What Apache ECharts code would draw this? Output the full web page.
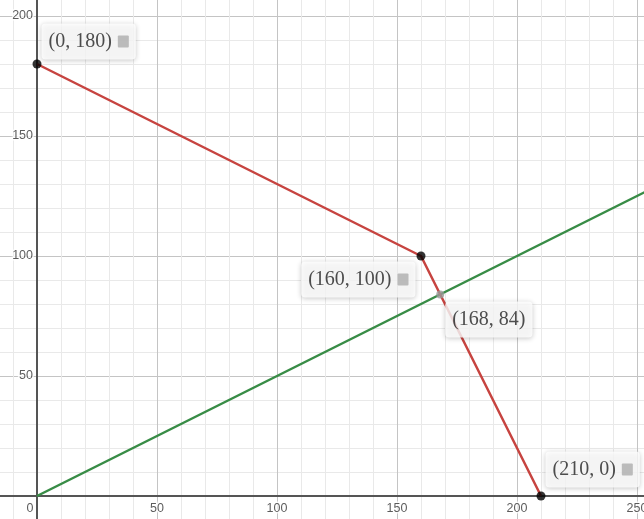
<!DOCTYPE html>
<html>
<head>
<meta charset="utf-8">
<script src="https://cdn.jsdelivr.net/npm/echarts@6/dist/echarts.min.js"></script>
<style>
html,body{margin:0;padding:0;background:#fff;width:644px;height:519px;overflow:hidden;position:relative}
#c{position:absolute;left:-83px;top:-104px;width:840px;height:720px}
</style>
</head>
<body>
<div id="c"></div>
<script>
// data
const redX = [0, 160, 210];
const redY = [180, 100, 0];
const greenX = [0, 260];
const greenY = [0, 130];
const pointX = [0, 160, 168, 210];
const pointY = [180, 100, 84, 0];
const pointLabels = ['(0, 180)', '(160, 100)', '(168, 84)', '(210, 0)'];
const pointHasIcon = [true, true, false, true];
const pointIsIntersection = [false, false, true, false];
const xTickLabels = [0, 50, 100, 150, 200, 250];
const yTickLabels = [50, 100, 150, 200];

// label placement (style)
const placement = [
  {position: [9, -36], align: 'left', verticalAlign: 'top'},
  {position: [-1, 10], align: 'right', verticalAlign: 'top'},
  {position: [9, 11], align: 'left', verticalAlign: 'top'},
  {position: [9, -4], align: 'left', verticalAlign: 'bottom'}
];

const chart = echarts.init(document.getElementById('c'));
const toPairs = (xs, ys) => xs.map((x, i) => [x, ys[i]]);

const pointData = pointX.map((x, i) => ({
  value: [x, pointY[i]],
  symbolSize: pointIsIntersection[i] ? 8 : 9,
  itemStyle: {color: pointIsIntersection[i] ? '#9a9a9a' : '#000'},
  label: Object.assign({
    show: true,
    formatter: pointHasIcon[i] ? '{t|' + pointLabels[i] + '}{sp| }{ic| }' : '{t|' + pointLabels[i] + '}'
  }, placement[i])
}));

const gridColor = '#c4c4c4';
const minorColor = '#e9e9e9';
const tickText = {show: true, color: '#333', fontSize: 12.5, fontFamily: 'Liberation Sans', textBorderColor: '#fff', textBorderWidth: 3};

const axisCommon = {
  type: 'value', interval: 50,
  axisLine: {onZero: true, lineStyle: {color: '#555', width: 2}},
  axisTick: {show: false},
  axisLabel: {show: false},
  splitLine: {show: true, lineStyle: {color: gridColor, width: 1}},
  minorTick: {show: false, splitNumber: 5},
  minorSplitLine: {show: true, lineStyle: {color: minorColor, width: 1}}
};

chart.setOption({
  animation: false,
  backgroundColor: '#fff',
  grid: {left: 0, right: 0, top: 0, bottom: 0, containLabel: false, outerBoundsMode: 'none'},
  xAxis: Object.assign({min: -50, max: 300}, axisCommon),
  yAxis: Object.assign({min: -50, max: 250}, axisCommon),
  series: [
    {
      type: 'line', data: toPairs(greenX, greenY), symbol: 'none',
      lineStyle: {color: '#388c46', width: 2.5}, z: 2, silent: true
    },
    {
      type: 'line', data: toPairs(redX, redY), symbol: 'none',
      lineStyle: {color: '#c74440', width: 2.5}, z: 3, silent: true
    },
    {
      type: 'scatter', silent: true, z: 4, symbolSize: 0,
      data: xTickLabels.map(v => ({
        value: [v, 0],
        label: v === 0 ? {offset: [-7, 0]} : {}
      })),
      label: Object.assign({position: 'bottom', distance: 6, formatter: p => String(p.value[0])}, tickText)
    },
    {
      type: 'scatter', silent: true, z: 4, symbolSize: 0,
      data: yTickLabels.map(v => [0, v]),
      label: Object.assign({position: 'left', distance: 4, formatter: p => String(p.value[1])}, tickText)
    },
    {
      type: 'scatter', data: pointData, z: 5,
      label: {
        backgroundColor: '#fff', borderRadius: 4, padding: [5, 7, 5, 7],
        shadowBlur: 5, shadowColor: 'rgba(0,0,0,0.28)', shadowOffsetY: 1,
        rich: {
          t: {fontFamily: 'Liberation Serif', fontSize: 20, color: '#222', lineHeight: 26},
          sp: {width: 6},
          ic: {width: 11, height: 12, backgroundColor: '#adadad', borderRadius: 1}
        }
      }
    }
  ]
});
</script>
</body>
</html>
